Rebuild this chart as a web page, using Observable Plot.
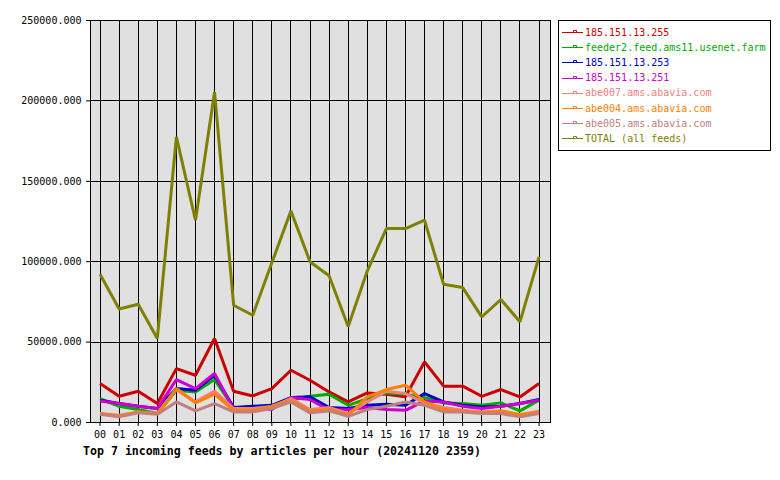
<!DOCTYPE html>
<html><head><meta charset="utf-8">
<script src="https://cdn.jsdelivr.net/npm/d3@7"></script>
<script src="https://cdn.jsdelivr.net/npm/@observablehq/plot@0.6"></script>
<style>
body{margin:0;background:#fff;}
#wrap{position:relative;width:780px;height:480px;font-family:"DejaVu Sans Mono",monospace;}
#chart{position:absolute;left:0;top:0;}
#legend{position:absolute;left:558px;top:20px;width:213px;height:131px;border:1px solid #000;background:#fff;box-sizing:border-box;padding-top:3.5px;}
.row{display:flex;align-items:center;height:15.2px;font-size:10px;white-space:nowrap;}
.row svg{margin-left:3px;margin-right:2px;flex:none;}
#title{position:absolute;left:83px;top:444px;font-size:11.6px;font-weight:bold;white-space:nowrap;}
</style>
</head><body>
<div id="wrap"><div id="chart"></div><div id="legend"></div><div id="title">Top 7 incoming feeds by articles per hour (20241120 2359)</div></div>
<script>
const hourLabels = ["00","01","02","03","04","05","06","07","08","09","10","11","12","13","14","15","16","17","18","19","20","21","22","23"];
const yTicks = [0, 50000, 100000, 150000, 200000, 250000];
const seriesNames = ["185.151.13.255","feeder2.feed.ams11.usenet.farm","185.151.13.253","185.151.13.251","abe007.ams.abavia.com","abe004.ams.abavia.com","abe005.ams.abavia.com","TOTAL (all feeds)"];
const seriesColors = ["#cc0000","#00aa00","#0000cc","#cc00cc","#f08080","#ff8000","#c08080","#808000"];
const s255   = [24200,16300,19400,11800,33500,29400,52200,19400,16500,21100,32500,26300,19000,12800,18400,17600,16000,37700,22600,22600,16300,20500,15900,24200];
const sFeed2 = [14900,10100,8100,5600,20100,19000,26700,9300,9000,9500,13900,16300,17600,10700,14900,18400,17500,15500,12200,11800,10700,12200,7200,13900];
const s253   = [13900,11800,10100,8700,21100,20100,29400,9300,10100,10700,15500,16000,9300,8700,10700,11400,10700,18000,12800,10700,9700,10100,11800,14300];
const s251   = [13400,11800,10100,8700,26700,21100,30500,8100,8700,8100,15500,14300,7600,8100,9300,8100,7600,13400,12800,10100,8700,10100,11800,13900];
const sAbe007 = [5600,4500,6600,5600,21100,12800,19600,8700,8700,10000,14900,8100,9300,5600,12800,19500,18000,12200,9300,7600,6600,7200,4500,7200];
const sAbe004 = [5600,3900,6600,5600,20700,12200,17600,7600,7600,10100,13900,7200,8100,4500,15900,20500,23200,12800,8100,7200,6000,7200,5000,6600];
const sAbe005 = [5100,3500,6000,5100,12800,7200,11800,6600,6600,8700,12800,6000,7200,3900,8100,10100,12800,10700,6600,6600,5600,5600,3500,5600];
const sTotal = [92200,70600,73500,52300,177600,125800,205500,72900,66700,99300,131600,100000,91300,59700,94200,120600,120600,125800,86000,83900,65700,76500,62600,103000];
const seriesValues = [s255, sFeed2, s253, s251, sAbe007, sAbe004, sAbe005, sTotal];

const hours = hourLabels.map((_, i) => i);
const font = "DejaVu Sans Mono, monospace";

const lineMarks = seriesValues.map((vals, k) =>
  Plot.line(hours.map(h => ({h, v: vals[h]})), {x: "h", y: "v", stroke: seriesColors[k], strokeWidth: 3, strokeLinejoin: "miter", strokeLinecap: "butt"})
);

const plot = Plot.plot({
  width: 780, height: 480,
  marginLeft: 90, marginRight: 230, marginTop: 20, marginBottom: 58,
  style: {fontFamily: font, fontSize: "10px", background: "transparent", color: "#000"},
  x: {domain: [-0.5, 23.6]},
  y: {domain: [0, 250000]},
  marks: [
    Plot.frame({fill: "#e0e0e0", stroke: "none"}),
    Plot.ruleX(hours, {x: d => d, stroke: "#000", strokeWidth: 1, shapeRendering: "crispEdges"}),
    Plot.ruleY(yTicks, {y: d => d, stroke: "#000", strokeWidth: 1, shapeRendering: "crispEdges"}),
    ...lineMarks,
    Plot.frame({stroke: "#000", strokeWidth: 1, shapeRendering: "crispEdges"}),
    Plot.axisY(yTicks, {tickFormat: d3.format(".3f"), tickSize: 4, tickPadding: 5, label: null, fontSize: 10}),
    Plot.axisX(hours, {tickFormat: d => hourLabels[d], tickSize: 4, tickPadding: 4, label: null, fontSize: 10})
  ]
});
document.getElementById("chart").appendChild(plot);

const legend = document.getElementById("legend");
seriesNames.forEach((name, k) => {
  const row = document.createElement("div");
  row.className = "row";
  row.style.color = seriesColors[k];
  const c = seriesColors[k];
  row.innerHTML = `<svg width="21" height="8"><line x1="0" y1="4.5" x2="21" y2="4.5" stroke="${c}" stroke-width="1"/><polyline points="11.5,4.5 11.5,2.5 14.5,2.5 14.5,4.5" fill="none" stroke="${c}" stroke-width="1"/></svg><span>${name}</span>`;
  legend.appendChild(row);
});
</script>
</body></html>
